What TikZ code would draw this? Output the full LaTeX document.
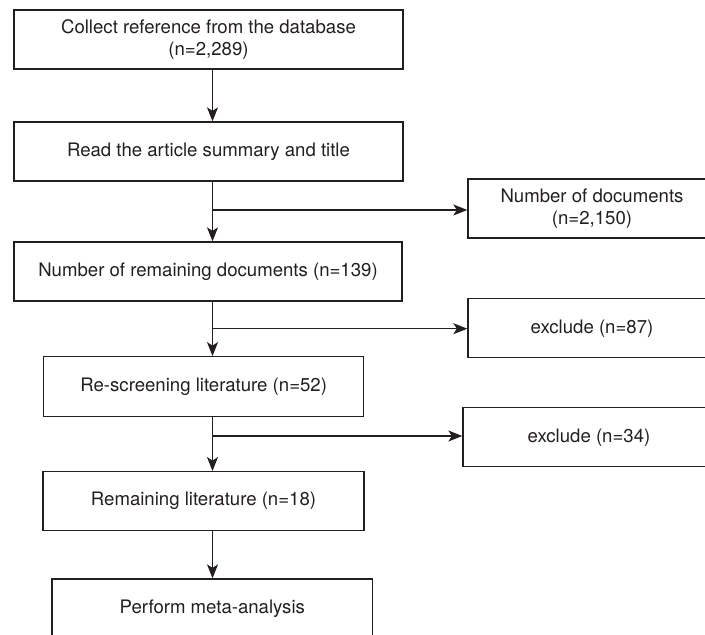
\documentclass[tikz,border=0pt]{standalone}
\usepackage{fontspec}
\setmainfont{TeX Gyre Heros}
\usetikzlibrary{arrows.meta}
\definecolor{ink}{HTML}{231F20}
\begin{document}
\begin{tikzpicture}[x=1pt,y=-1pt,
  box/.style={draw=ink,line width=1.3pt,rectangle,inner sep=0pt,align=center,
    text=ink,font=\fontsize{18.6}{22.5}\selectfont},
  link/.style={draw=ink,line width=1.3pt},
  arr/.style={link,-{Stealth[length=14pt,width=11pt,inset=3.5pt]}}]
\useasboundingbox (0,0) rectangle (705,635);
\clip (0,0) rectangle (705,635);
\node[box,minimum width=389pt,minimum height=59pt] (b1) at (208.5,39.5) {Collect reference from the database\\(n=2,289)};
\node[box,minimum width=389pt,minimum height=59pt] (b2) at (208.5,151.5) {Read the article summary and title};
\node[box,minimum width=388pt,minimum height=59pt] (b3) at (208,271.5) {Number of remaining documents (n=139)};
\node[box,minimum width=320pt,minimum height=59.5pt] (b4) at (203.7,386.5) {Re-screening literature (n=52)};
\node[box,minimum width=321pt,minimum height=59pt] (b5) at (203.5,501.2) {Remaining literature (n=18)};
\node[box,minimum width=320.7pt,minimum height=59pt] (b6) at (212.3,608.5) {Perform meta-analysis};
\node[box,minimum width=248pt,minimum height=59pt] (r1) at (592,208.5) {Number of documents\\(n=2,150)};
\node[box,minimum width=248pt,minimum height=59pt] (r2) at (592,328.3) {exclude (n=87)};
\node[box,minimum width=252pt,minimum height=59pt] (r3) at (589,437.2) {exclude (n=34)};
\coordinate (vx) at (212.5,0);
\coordinate (j1) at (212.5,210);
\coordinate (j2) at (212.5,328.7);
\coordinate (j3) at (212.5,436);
\draw[arr] (b1.south -| vx) -- (b2.north -| vx);
\draw[arr] (b2.south -| vx) -- (b3.north -| vx);
\draw[arr] (j1) -- (j1 -| r1.west);
\draw[arr] (b3.south -| vx) -- (b4.north -| vx);
\draw[arr] (j2) -- (j2 -| r2.west);
\draw[arr] (b4.south -| vx) -- (b5.north -| vx);
\draw[arr] (j3) -- (j3 -| r3.west);
\draw[arr] (b5.south -| vx) -- (b6.north -| vx);
\end{tikzpicture}
\end{document}
